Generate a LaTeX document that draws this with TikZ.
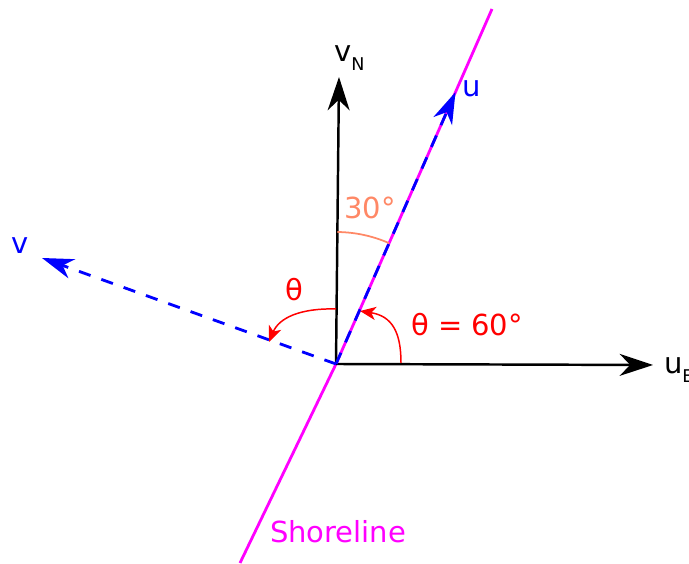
\documentclass[tikz,border=0pt]{standalone}
\usepackage{fontspec}
\setmainfont{DejaVu Sans}
\usepackage{tikz}
\usetikzlibrary{arrows.meta, positioning, calc}

\definecolor{shorecol}{RGB}{255,0,255}
\definecolor{veccol}{RGB}{0,0,255}
\definecolor{angcol}{RGB}{255,0,0}
\definecolor{arccol}{RGB}{255,136,102}

\newcommand{\lowidx}[1]{\raisebox{-0.55ex}{\fontsize{10}{12}\selectfont #1}}

\begin{document}
\begin{tikzpicture}[
        x=0.02cm, y=0.02cm,
        axis/.style={-{Stealth[length=19pt, width=12.5pt, inset=6pt]}, line width=1.4pt, black},
        vec/.style={-{Stealth[length=18pt, width=11.5pt, inset=5.5pt]}, line width=1.6pt, veccol,
            dash pattern=on 7pt off 6.5pt},
        shore/.style={line width=1.6pt, shorecol},
        angarr/.style={-{Stealth[length=9pt, width=7.5pt, inset=2.5pt]}, line width=0.85pt, angcol},
        lbl/.style={inner sep=1pt, font=\fontsize{16.5}{19}\selectfont}
    ]
    \useasboundingbox (0,0) rectangle (689,564);

    % === Points ===
    \coordinate (O) at (336,200);
    \coordinate (uEtip) at (653,199);
    \coordinate (vNtip) at (339,487);
    \coordinate (shoreS) at (240,1);
    \coordinate (shoreN) at (492,555);
    \coordinate (utip) at ($(O)!0.766!(shoreN)$);
    \coordinate (vtip) at (42,306);

    % === Shoreline ===
    \draw[shore] (shoreS) -- (O) -- (shoreN);

    % === Axes ===
    \draw[axis] (O) -- (uEtip);
    \draw[axis] (O) -- (vNtip);

    % === Rotated vectors ===
    \draw[vec] (O) -- (utip);
    \draw[vec] (O) -- (vtip);

    % === Angles ===
    \draw[arccol, line width=1pt] ($(O)+(89.4:132)$) arc[start angle=89.4, end angle=66.3, radius=132];
    \coordinate (th1s) at (336,255);
    \coordinate (th1e) at (269,222);
    \draw[angarr] (th1s) .. controls (300,256) and (279,246) .. (th1e);
    \coordinate (th2s) at (401,201);
    \coordinate (th2e) at (360,253);
    \draw[angarr] (th2s) .. controls (401,232) and (392,248) .. (th2e);

    % === Labels ===
    \node[lbl, text=black, anchor=base west] (uElbl) at (662,190) {u\lowidx{E}};
    \node[lbl, text=black, anchor=base west] (vNlbl) at (332,502) {v\lowidx{N}};
    \node[lbl, text=veccol] (ulbl) at (472,475) {u};
    \node[lbl, text=veccol] (vlbl) at (20,318) {v};
    \node[lbl, text=shorecol, anchor=base] (shorelbl) at (338,21) {Shoreline};
    \node[lbl, text=arccol] (arclbl) at (370,356) {30°};
    \node[lbl, text=angcol] (th1lbl) at (294,274) {θ};
    \node[lbl, text=angcol] (th2lbl) at (467,239) {θ = 60°};

\end{tikzpicture}
\end{document}
